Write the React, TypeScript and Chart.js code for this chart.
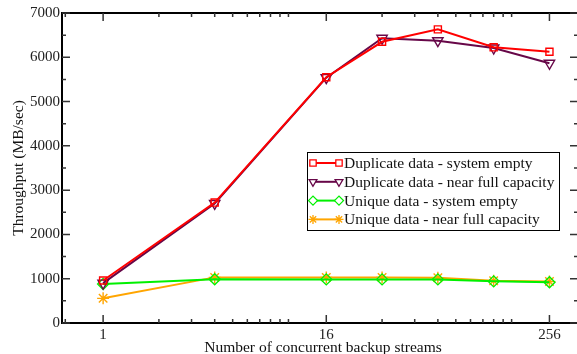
import React, { useEffect, useRef } from "react";
import { Chart, registerables } from "chart.js";
import { drawPoint } from "chart.js/helpers";

Chart.register(...registerables);

const streams = [1, 4, 16, 32, 64, 128, 256];
const dupEmpty = [960, 2720, 5550, 6350, 6630, 6225, 6125];
const dupFull = [900, 2700, 5540, 6430, 6375, 6210, 5865];
const uniqEmpty = [880, 990, 985, 985, 985, 940, 920];
const uniqFull = [557, 1030, 1030, 1030, 1020, 955, 935];

const xTickValues = [1, 16, 256];
const yTickStep = 1000;

const FONT = "'Liberation Serif', 'Times New Roman', serif";

const series = [
  { label: "Duplicate data - system empty", data: dupEmpty, color: "#ff0000", style: "rect", rotation: 0, radius: 5 },
  { label: "Duplicate data - near full capacity", data: dupFull, color: "#670748", style: "triangle", rotation: 180, radius: 6 },
  { label: "Unique data - system empty", data: uniqEmpty, color: "#00f000", style: "rectRot", rotation: 0, radius: 5.5 },
  { label: "Unique data - near full capacity", data: uniqFull, color: "#ffa500", style: "star", rotation: 0, radius: 6 },
];

const framePlugin = {
  id: "frame",
  afterDraw(chart: any) {
    const { ctx, chartArea: a, scales } = chart;
    const x = scales.x;
    const y = scales.y;
    ctx.save();
    ctx.strokeStyle = "#000";
    ctx.lineWidth = 2;
    ctx.strokeRect(a.left, a.top, a.right - a.left, a.bottom - a.top);

    ctx.strokeStyle = "#333";
    ctx.lineWidth = 1.5;
    const vtick = (px: number, len: number) => {
      ctx.beginPath();
      ctx.moveTo(px, a.bottom);
      ctx.lineTo(px, a.bottom - len);
      ctx.moveTo(px, a.top);
      ctx.lineTo(px, a.top + len);
      ctx.stroke();
    };
    const htick = (py: number, len: number) => {
      ctx.beginPath();
      ctx.moveTo(a.left, py);
      ctx.lineTo(a.left + len, py);
      ctx.moveTo(a.right, py);
      ctx.lineTo(a.right - len, py);
      ctx.stroke();
    };
    const xmin = x.min, xmax = x.max;
    const bases = [1 / 16, 1, 16, 256];
    bases.forEach((b) => {
      if (b >= xmin && b <= xmax) vtick(x.getPixelForValue(b), 8);
      for (let k = 2; k <= 10; k++) {
        const v = b * k;
        if (v > xmin && v < xmax) vtick(x.getPixelForValue(v), 4);
      }
    });
    for (let v = y.min; v <= y.max; v += yTickStep / 2) {
      const major = Math.round(v) % yTickStep === 0;
      htick(y.getPixelForValue(v), major ? 8 : 4);
    }

    // axis titles
    ctx.fillStyle = "#111";
    ctx.font = `15.5px ${FONT}`;
    ctx.textAlign = "center";
    ctx.textBaseline = "alphabetic";
    ctx.fillText("Number of concurrent backup streams", (a.left + a.right) / 2 + 3, 352);
    ctx.save();
    ctx.translate(23, (a.top + a.bottom) / 2);
    ctx.rotate(-Math.PI / 2);
    ctx.fillText("Throughput (MB/sec)", 0, 0);
    ctx.restore();

    // legend
    const lx = 307, ly = 152, lw = 252, lh = 78;
    ctx.fillStyle = "#fff";
    ctx.fillRect(lx, ly, lw, lh);
    ctx.strokeStyle = "#000";
    ctx.lineWidth = 1;
    ctx.strokeRect(lx + 0.5, ly + 0.5, lw, lh);
    ctx.textAlign = "left";
    ctx.textBaseline = "middle";
    ctx.font = `15.5px ${FONT}`;
    series.forEach((s, i) => {
      const cy = ly + 11 + i * 18.8;
      ctx.strokeStyle = s.color;
      ctx.lineWidth = 2;
      ctx.beginPath();
      ctx.moveTo(313, cy);
      ctx.lineTo(339, cy);
      ctx.stroke();
      ctx.lineWidth = 1.3;
      ctx.fillStyle = "rgba(255,255,255,1)";
      [313, 339].forEach((px) => {
        drawPoint(ctx, { pointStyle: s.style, radius: 4.5, rotation: s.rotation, borderWidth: 1.3 }, px, cy);
      });
      ctx.fillStyle = "#111";
      ctx.fillText(s.label, 344, cy + 1);
    });
    ctx.restore();
  },
};

export default function App() {
  const ref = useRef<HTMLCanvasElement | null>(null);
  useEffect(() => {
    if (!ref.current) return;
    const chart = new Chart(ref.current, {
      type: "line",
      data: {
        datasets: series.map((s) => ({
          label: s.label,
          data: streams.map((v, i) => ({ x: v, y: s.data[i] })),
          borderColor: s.color,
          backgroundColor: "rgba(0,0,0,0)",
          borderWidth: 2,
          pointStyle: s.style as any,
          pointRotation: s.rotation,
          pointRadius: s.radius,
          pointBorderColor: s.color,
          pointBackgroundColor: "rgba(0,0,0,0)",
          pointBorderWidth: 1.4,
          tension: 0,
        })),
      },
      options: {
        responsive: false,
        animation: false,
        devicePixelRatio: 1,
        layout: { padding: { top: 13, right: 12, left: 0, bottom: 0 } },
        plugins: { legend: { display: false }, tooltip: { enabled: false } },
        scales: {
          x: {
            type: "logarithmic",
            min: 0.61,
            max: 365,
            grid: { display: false, drawTicks: false },
            border: { display: false },
            afterBuildTicks: (s: any) => {
              s.ticks = xTickValues.map((v) => ({ value: v }));
            },
            afterFit: (s: any) => {
              s.height = 31;
            },
            ticks: {
              autoSkip: false,
              maxRotation: 0,
              padding: 3,
              color: "#222",
              font: { family: FONT, size: 15 },
              callback: (v: any) => String(v),
            },
          },
          y: {
            min: 0,
            max: 7000,
            grid: { display: false, drawTicks: false },
            border: { display: false },
            afterFit: (s: any) => {
              s.width = 62;
            },
            ticks: {
              stepSize: yTickStep,
              padding: 2,
              color: "#222",
              font: { family: FONT, size: 15 },
              callback: (v: any) => String(v),
            },
          },
        },
      },
      plugins: [framePlugin],
    });
    return () => chart.destroy();
  }, []);
  return (
    <div style={{ position: "fixed", left: 0, top: 0, width: 577, height: 354, overflow: "hidden", background: "#fff" }}>
      <canvas ref={ref} width={590} height={354} style={{ width: 590, height: 354, display: "block" }} />
    </div>
  );
}
